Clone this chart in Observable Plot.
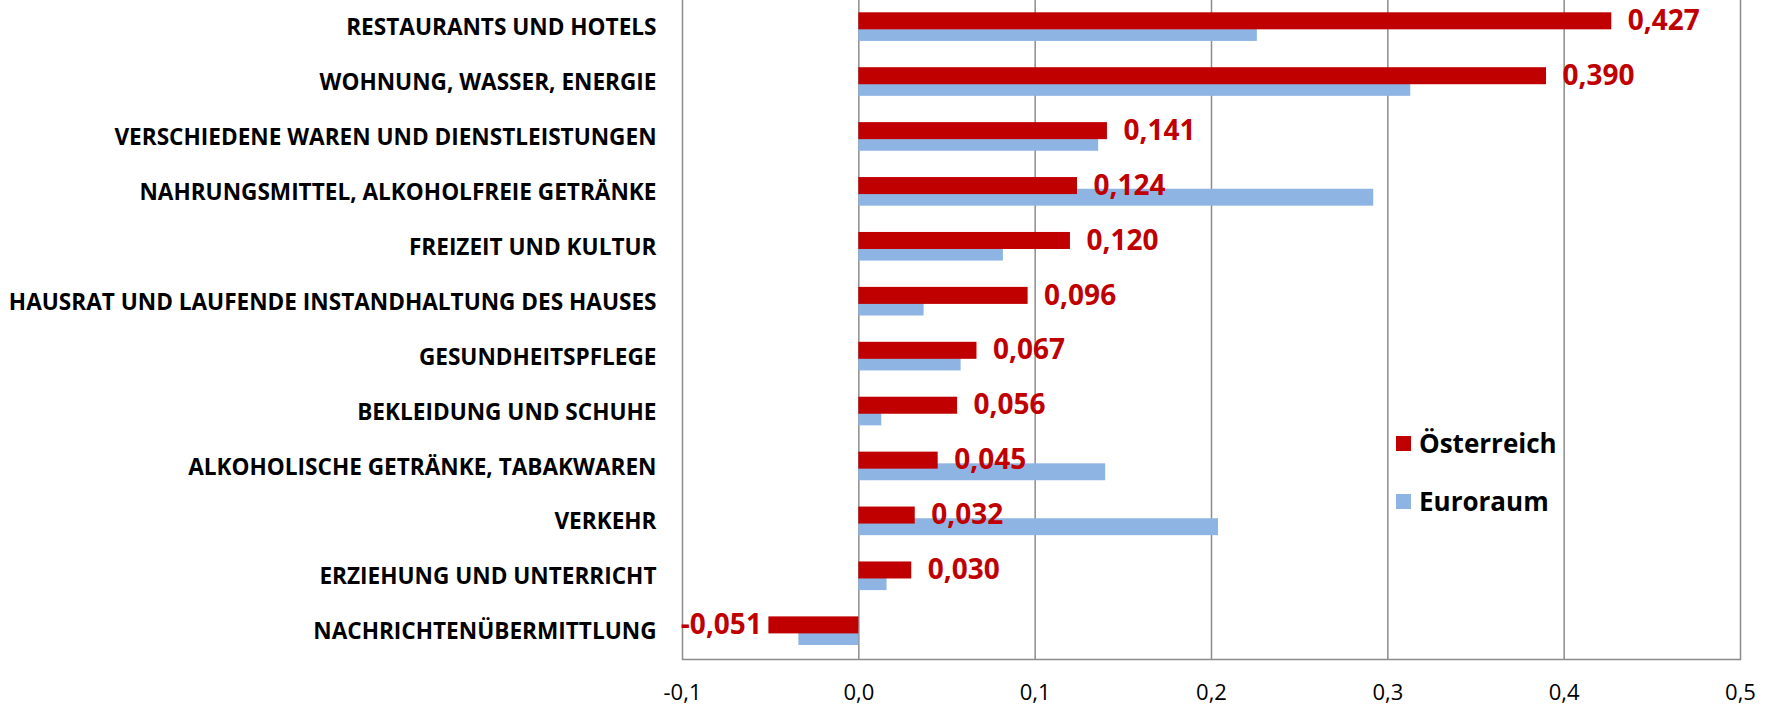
<!DOCTYPE html>
<html>
<head>
<meta charset="utf-8">
<script src="https://cdn.jsdelivr.net/npm/d3@7"></script>
<script src="https://cdn.jsdelivr.net/npm/@observablehq/plot@0.6"></script>
<style>
  body { margin: 0; background: #fff; }
  #wrap { position: relative; width: 1771px; height: 706px; }
  #legend { position: absolute; left: 1396px; top: 425px; font-family: "Open Sans", sans-serif; font-weight: 700; font-size: 26px; color: #000; }
  #legend .item { display: flex; align-items: center; height: 36px; margin-bottom: 22px; }
  #legend .sw { width: 15px; height: 15px; margin-right: 8px; }
</style>
</head>
<body>
<div id="wrap"></div>
<script>
const categories = [
  "RESTAURANTS UND HOTELS",
  "WOHNUNG, WASSER, ENERGIE",
  "VERSCHIEDENE WAREN UND DIENSTLEISTUNGEN",
  "NAHRUNGSMITTEL, ALKOHOLFREIE GETRÄNKE",
  "FREIZEIT UND KULTUR",
  "HAUSRAT UND LAUFENDE INSTANDHALTUNG DES HAUSES",
  "GESUNDHEITSPFLEGE",
  "BEKLEIDUNG UND SCHUHE",
  "ALKOHOLISCHE GETRÄNKE, TABAKWAREN",
  "VERKEHR",
  "ERZIEHUNG UND UNTERRICHT",
  "NACHRICHTENÜBERMITTLUNG"
];
const oesterreich = [0.427, 0.390, 0.141, 0.124, 0.120, 0.096, 0.067, 0.056, 0.045, 0.032, 0.030, -0.051];
const euroraum   = [0.226, 0.313, 0.136, 0.292, 0.082, 0.037, 0.058, 0.013, 0.140, 0.204, 0.016, -0.034];
const xTicks = [-0.1, 0, 0.1, 0.2, 0.3, 0.4, 0.5];
const seriesNames = ["Österreich", "Euroraum"];
const colors = ["#C00000", "#8EB4E3"];

const loc = d3.formatLocale({decimal: ",", thousands: ".", grouping: [3], currency: ["", "€"], minus: "-"});
const f3 = loc.format(".3f");
const f1 = loc.format(".1f");

const at = categories.map((c, i) => ({cat: c, value: oesterreich[i]}));
const eu = categories.map((c, i) => ({cat: c, value: euroraum[i]}));

const W = 1771, H = 706;
const chart = Plot.plot({
  width: W,
  height: H,
  marginLeft: 682,
  marginRight: 31,
  marginTop: 0,
  marginBottom: 47,
  style: {fontFamily: "'Open Sans', sans-serif", background: "#fff"},
  x: {domain: [-0.1, 0.5]},
  y: {domain: categories, padding: 0, round: false},
  marks: [
    Plot.ruleX(xTicks, {stroke: "#8c8c8c", strokeWidth: 1.5}),
    Plot.frame({anchor: "bottom", stroke: "#8c8c8c", strokeWidth: 1.5}),
    Plot.barX(eu, {x: "value", y: "cat", fill: colors[1], insetTop: 24, insetBottom: 14}),
    Plot.barX(at, {x: "value", y: "cat", fill: colors[0], insetTop: 12.3, insetBottom: 25.6}),
    Plot.text(at.filter(d => d.value >= 0), {x: "value", y: "cat", text: d => f3(d.value), textAnchor: "start", dx: 16, dy: -7, fill: colors[0], fontSize: 28, fontWeight: 700}),
    Plot.text(at.filter(d => d.value < 0), {x: "value", y: "cat", text: d => f3(d.value), textAnchor: "end", dx: -7, dy: -7, fill: colors[0], fontSize: 28, fontWeight: 700}),
    Plot.axisX({ticks: xTicks, tickFormat: d => f1(d), tickSize: 0, tickPadding: 24.5, fontSize: 22, fill: "#000", label: null}),
    Plot.axisY({tickSize: 0, tickPadding: 26, fontSize: 22.6, fontWeight: 700, fill: "#000", label: null})
  ]
});
document.getElementById("wrap").appendChild(chart);

const lg = document.createElement("div");
lg.id = "legend";
seriesNames.forEach((n, i) => {
  const it = document.createElement("div");
  it.className = "item";
  const sw = document.createElement("div");
  sw.className = "sw";
  sw.style.background = colors[i];
  const t = document.createElement("span");
  t.textContent = n;
  it.appendChild(sw); it.appendChild(t);
  lg.appendChild(it);
});
document.getElementById("wrap").appendChild(lg);
</script>
</body>
</html>
